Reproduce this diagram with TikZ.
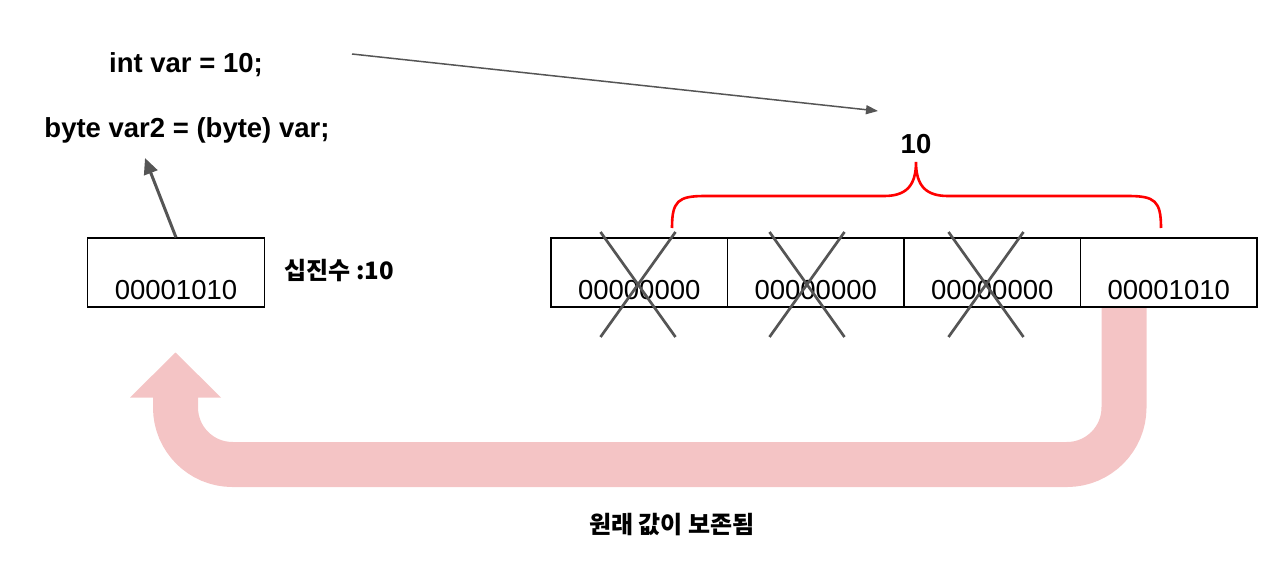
\documentclass[tikz,border=0pt]{standalone}
\usepackage{fontspec}
\setmainfont{Liberation Sans}
\newfontfamily\kr{Noto Sans CJK KR}
\usetikzlibrary{arrows.meta}
\definecolor{pinkarrow}{RGB}{244,196,197}
\definecolor{darkg}{RGB}{85,85,85}
\definecolor{bracered}{RGB}{255,0,0}
\tikzset{
  boldlbl/.style={font=\fontsize{27.5}{33}\selectfont\bfseries, inner sep=0pt, anchor=base},
  binlbl/.style={font=\fontsize{27.5}{33}\selectfont, inner sep=0pt, anchor=base},
  krlbl/.style={font=\kr\fontsize{24}{29}\selectfont\bfseries, inner sep=0pt, anchor=base},
  membox/.style={draw=black, line width=1.2pt, minimum width=176.5pt, minimum height=69pt, inner sep=0pt},
  xline/.style={draw=darkg, line width=2.7pt},
  ptrthin/.style={draw=darkg, line width=1.5pt, -{Triangle[length=12pt,width=9pt]}},
  ptrthick/.style={draw=darkg, line width=3pt, -{Triangle[length=16pt,width=14pt]}},
  bigarrow/.style={draw=pinkarrow, line width=45pt, rounded corners=57pt},
  bracepath/.style={draw=bracered, line width=2.6pt}
}
\begin{document}
\begin{tikzpicture}[x=1pt,y=-1pt]
\useasboundingbox (0,0) rectangle (1278,570);

% memory boxes (positions)
\coordinate (lbc) at (176,272.5);
\coordinate (b1c) at (639.25,272.5);
\coordinate (b2c) at (815.75,272.5);
\coordinate (b3c) at (992.25,272.5);
\coordinate (b4c) at (1168.75,272.5);

% big pink arrow (behind boxes)
\coordinate (pstart) at (1124,307);
\coordinate (pend) at (175.5,396);
\path[bigarrow] (pstart) -- (1124,464.5) -- (175.5,464.5) -- (pend);
\fill[pinkarrow] (130,397.5) -- (175.5,352.5) -- (221,397.5) -- cycle;

% boxes
\node[membox] (lb) at (lbc) {};
\node[membox] (b1) at (b1c) {};
\node[membox] (b2) at (b2c) {};
\node[membox] (b3) at (b3c) {};
\node[membox] (b4) at (b4c) {};

% box texts
\node[binlbl] (t0) at ([yshift=8pt]lb.south) {00001010};
\node[binlbl] (t1) at ([yshift=8pt]b1.south) {00000000};
\node[binlbl] (t2) at ([yshift=8pt]b2.south) {00000000};
\node[binlbl] (t3) at ([yshift=8pt]b3.south) {00000000};
\node[binlbl] (t4) at ([yshift=8pt]b4.south) {00001010};

% crosses
\foreach \cx in {638,807,986}{
  \draw[xline] (\cx-37.5,232) -- (\cx+37.5,337);
  \draw[xline] (\cx+37.5,232) -- (\cx-37.5,337);
}

% brace
\draw[bracepath] (672,228) .. controls (672,201) and (678,196) .. (705,196)
  -- (884,196) .. controls (906,196) and (916,186) .. (916,162)
  .. controls (916,186) and (926,196) .. (948,196)
  -- (1128,196) .. controls (1155,196) and (1161,201) .. (1161,228);

% labels
\node[boldlbl] (l10) at (916,153) {10};
\node[boldlbl] (iv) at (186,72) {int var = 10;};
\node[boldlbl] (bv) at (187,137.5) {byte var2 = (byte) var;};
\node[krlbl] (dec) at (339,279) {십진수 :10};
\node[krlbl] (keep) at (672,533) {원래 값이 보존됨};

% arrows
\coordinate (srcA) at (352,54);
\coordinate (tipA) at (878,111);
\draw[ptrthin] (srcA) -- (tipA);
\coordinate (tipB) at (145,158);
\draw[ptrthick] (lb.north) -- (tipB);
\end{tikzpicture}
\end{document}
